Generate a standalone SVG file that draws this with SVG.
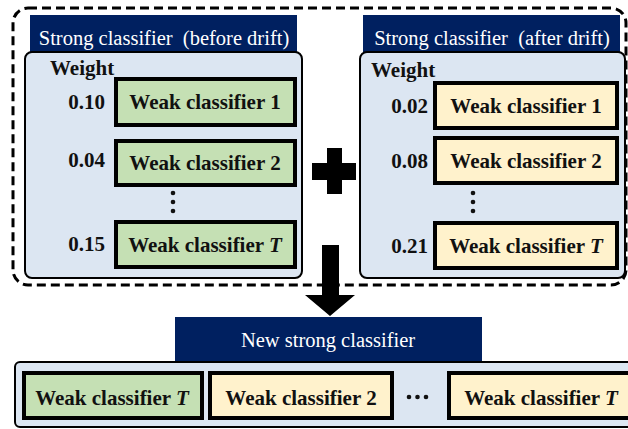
<svg xmlns="http://www.w3.org/2000/svg" width="628" height="429" viewBox="0 0 628 429">
<style>
.hdr{fill:#002060}
.hdrt{font-family:"Liberation Serif",serif;font-size:20.5px;fill:#ffffff;text-anchor:middle}
.panel{fill:#dce6f2;stroke:#000;stroke-width:2}
.g{fill:#c5e0b4;stroke:#000;stroke-width:4}
.y{fill:#fff2cc;stroke:#000;stroke-width:4}
.wt{font-family:"Liberation Serif",serif;font-size:21px;font-weight:bold;fill:#111;text-anchor:middle}
.num{font-family:"Liberation Serif",serif;font-size:21px;font-weight:bold;fill:#111;text-anchor:end}
.lbl{font-family:"Liberation Serif",serif;font-size:21px;font-weight:bold;fill:#111}
.dot{fill:#111}
</style>
<g id="outer">
<rect x="13" y="8" width="613" height="277" rx="15" fill="none" stroke="#000" stroke-width="3" stroke-dasharray="9,5"/>
</g>
<g id="before">
<rect class="hdr" x="30" y="15" width="267" height="38"/>
<text class="hdrt" x="164" y="45" xml:space="preserve">Strong classifier  (before drift)</text>
<rect class="panel" x="25" y="52" width="277" height="226" rx="7"/>
<text class="lbl" x="50" y="75">Weight</text>
<g id="b1"><rect class="g" x="116" y="79" width="179" height="46"/><text class="wt" x="205" y="109">Weak classifier 1</text><text class="num" x="105" y="109">0.10</text></g>
<g id="b2"><rect class="g" x="116" y="141" width="179" height="44"/><text class="wt" x="205" y="170">Weak classifier 2</text><text class="num" x="105" y="167">0.04</text></g>
<circle class="dot" cx="173" cy="193" r="2.3"/><circle class="dot" cx="173" cy="202" r="2.3"/><circle class="dot" cx="173" cy="211" r="2.3"/>
<g id="bT"><rect class="g" x="116" y="222" width="179" height="45"/><text class="wt" x="205" y="252">Weak classifier <tspan font-style="italic">T</tspan></text><text class="num" x="105" y="251">0.15</text></g>
</g>
<g id="after">
<rect class="hdr" x="363" y="15" width="257" height="38"/>
<text class="hdrt" x="492" y="45" xml:space="preserve">Strong classifier  (after drift)</text>
<rect class="panel" x="360" y="52" width="265" height="226" rx="7"/>
<text class="lbl" x="371" y="77">Weight</text>
<g id="a1"><rect class="y" x="435" y="83" width="182" height="45"/><text class="wt" x="526" y="113">Weak classifier 1</text><text class="num" x="428" y="113">0.02</text></g>
<g id="a2"><rect class="y" x="435" y="138" width="182" height="45"/><text class="wt" x="526" y="168">Weak classifier 2</text><text class="num" x="428" y="168">0.08</text></g>
<circle class="dot" cx="473" cy="193" r="2.3"/><circle class="dot" cx="473" cy="202" r="2.3"/><circle class="dot" cx="473" cy="211" r="2.3"/>
<g id="aT"><rect class="y" x="435" y="223" width="182" height="45"/><text class="wt" x="526" y="253">Weak classifier <tspan font-style="italic">T</tspan></text><text class="num" x="428" y="253">0.21</text></g>
</g>
<g id="connectors">
<path d="M327 148H342V163H356V180H342V194H327V180H312V163H327Z" fill="#000"/>
<path d="M322 245H339V295H355L330 316L305 295H322Z" fill="#000"/>
</g>
<g id="new">
<rect class="hdr" x="175" y="317" width="307" height="46"/>
<text class="hdrt" x="328" y="347">New strong classifier</text>
<rect class="panel" x="15" y="362" width="625" height="65" rx="5"/>
<g id="n1"><rect class="g" x="24" y="373" width="178" height="45"/><text class="wt" x="112" y="405">Weak classifier <tspan font-style="italic">T</tspan></text></g>
<g id="n2"><rect class="y" x="210" y="373" width="182" height="45"/><text class="wt" x="301" y="405">Weak classifier 2</text></g>
<circle class="dot" cx="409" cy="397" r="2.3"/><circle class="dot" cx="417.5" cy="397" r="2.3"/><circle class="dot" cx="426" cy="397" r="2.3"/>
<g id="n3"><rect class="y" x="449" y="373" width="182" height="45"/><text class="wt" x="541" y="405">Weak classifier <tspan font-style="italic">T</tspan></text></g>
</g>
</svg>
